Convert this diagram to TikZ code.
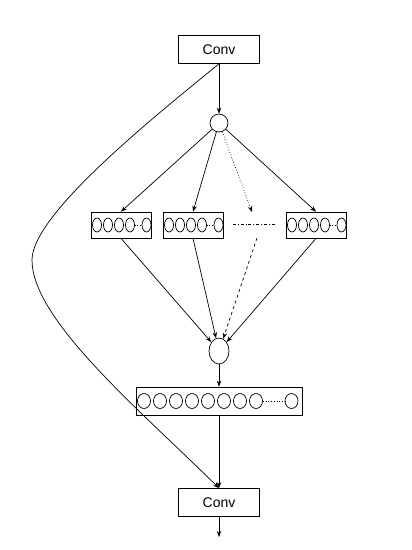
\documentclass[tikz,border=0pt]{standalone}
\usepackage{fontspec}
\setmainfont{Liberation Sans}
\usetikzlibrary{arrows.meta}
\usetikzlibrary{shapes.geometric}

\begin{document}
\begin{tikzpicture}[x=1pt,y=-1pt,line width=0.7pt,>={Stealth[length=6pt,width=4.5pt]},
    convbox/.style={draw, minimum width=81pt, minimum height=28pt, inner sep=0pt, font=\fontsize{14}{16}\selectfont},
    layerbox/.style={draw, minimum width=60pt, minimum height=26pt, inner sep=0pt}]
      \useasboundingbox (0,0) rectangle (412,550);
      \node[convbox] (convin) at (219,49.5) {Conv};
      \node[draw, circle, minimum size=18pt, inner sep=0pt] (split) at (219,123) {};
      % branches with their units
      \foreach \name/\cx in {branchA/121, branchB/193, branchD/316} {
        \node[layerbox] (\name) at (\cx,225) {};
        \foreach \i in {0,...,3}
          \draw (\cx-30+6+11*\i,225) ellipse [x radius=4.5pt, y radius=7pt];
        \draw[dotted] (\cx-30+43.5,225) -- (\cx-30+51,225);
        \draw (\cx-30+55.5,225) ellipse [x radius=4.5pt, y radius=7pt];
      }
      \coordinate (dotend) at (252,212);
      \coordinate (dashstart) at (257,238);
      \coordinate (skipL) at (233,224);
      \coordinate (skipR) at (275,224);
      \node[draw, ellipse, minimum width=20pt, minimum height=26pt, inner sep=0pt] (merge) at (219,351) {};
      % wide layer
      \node[draw, minimum width=166pt, minimum height=28pt, inner sep=0pt] (concat) at (219,401) {};
      \foreach \i in {0,...,7}
        \draw (144+16*\i,401) ellipse [x radius=6.5pt, y radius=7.5pt];
      \draw[dotted] (263,401) -- (285,401);
      \draw (291.5,401) ellipse [x radius=6.5pt, y radius=7.5pt];
      \node[convbox] (convout) at (219,502.5) {Conv};
      \coordinate (outtip) at (219,537);
      \coordinate (leftmost) at (32,260);

      \draw[->] (convin) -- (split);
      \foreach \b in {branchA,branchB,branchD}
        \draw[->] (split) -- (\b.north);
      \draw[->, dotted] (split) -- (dotend);
      \draw[dash dot] (skipL) -- (skipR);
      \foreach \b in {branchA,branchB,branchD}
        \draw[->] (\b.south) -- (merge);
      \draw[->, dashed] (dashstart) -- (merge);
      \draw[->] (merge) -- (concat);
      \draw[->] (concat) -- (convout);
      \draw[->] (convout) -- (outtip);
      \draw[->] (convin.south) .. controls (150,120) and (32,215) .. (leftmost)
                .. controls (32,320) and (140,410) .. (convout.north);
    \end{tikzpicture}
\end{document}
